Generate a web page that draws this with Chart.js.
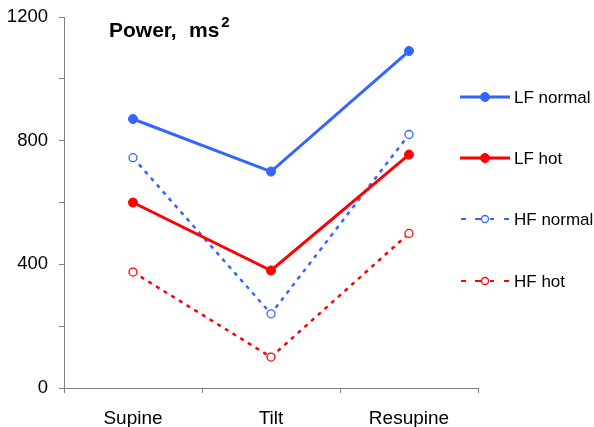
<!DOCTYPE html>
<html>
<head>
<meta charset="utf-8">
<script src="https://cdn.jsdelivr.net/npm/chart.js@4/dist/chart.umd.min.js"></script>
<style>
  html, body { margin: 0; padding: 0; background: #fff; }
  #wrap { width: 594px; height: 427px; }
</style>
</head>
<body>
<div id="wrap"><canvas id="c" width="594" height="427"></canvas></div>
<script>
// Spectral power by posture
const categories = ['Supine', 'Tilt', 'Resupine'];
const lfNormal = [870, 700, 1090];
const lfHot    = [600, 380, 755];
const hfNormal = [745, 240, 820];
const hfHot    = [375, 100, 500];
const yTicks   = [0, 400, 800, 1200];

const BLUE = '#3366ff';
const RED = '#ff0000';
const AXIS = '#808080';
const FONT = '"Liberation Sans", Arial, sans-serif';

function series(label, data, color, dashed) {
  return {
    label, data,
    borderColor: color,
    backgroundColor: dashed ? '#ffffff' : color,
    pointBackgroundColor: dashed ? '#ffffff' : color,
    pointBorderColor: color,
    borderWidth: dashed ? 2.5 : 3,
    borderDash: dashed ? [4, 5] : [],
    pointRadius: dashed ? 4 : 4.5,
    pointBorderWidth: dashed ? 1.3 : 1,
    pointHoverRadius: 5,
    tension: 0,
    fill: false,
    _dashed: dashed
  };
}

// Title with superscript, drawn inside the plot area
const titlePlugin = {
  id: 'powerTitle',
  afterDraw(chart) {
    const ctx = chart.ctx;
    ctx.save();
    ctx.fillStyle = '#000';
    ctx.textBaseline = 'alphabetic';
    ctx.textAlign = 'left';
    ctx.font = 'bold 21px ' + FONT;
    const y = 37;
    ctx.fillText('Power,', 109, y);
    ctx.fillText('ms', 189, y);
    const w = ctx.measureText('ms').width;
    ctx.font = 'bold 15px ' + FONT;
    ctx.fillText('2', 189 + w + 2, y - 10);
    ctx.restore();
  }
};

// Legend drawn to the right of the plot
const legendPlugin = {
  id: 'sideLegend',
  afterDraw(chart) {
    const ctx = chart.ctx;
    const rows = [97, 158, 219, 281];
    chart.data.datasets.forEach((ds, i) => {
      const y = rows[i];
      ctx.save();
      ctx.strokeStyle = ds.borderColor;
      let r = ds.pointRadius;
      if (ds._dashed) {
        ctx.lineWidth = 2;
        ctx.lineCap = 'butt';
        [[461, 466], [475, 481], [490, 494], [504, 509]].forEach(([a, b]) => {
          ctx.beginPath(); ctx.moveTo(a, y); ctx.lineTo(b, y); ctx.stroke();
        });
        r = 3.5;
      } else {
        ctx.lineWidth = ds.borderWidth;
        ctx.beginPath(); ctx.moveTo(460, y); ctx.lineTo(510, y); ctx.stroke();
      }
      ctx.beginPath();
      ctx.arc(485, y, r, 0, Math.PI * 2);
      ctx.fillStyle = ds.pointBackgroundColor;
      ctx.fill();
      ctx.lineWidth = ds.pointBorderWidth;
      ctx.stroke();
      ctx.fillStyle = '#000';
      ctx.font = '17px ' + FONT;
      ctx.textBaseline = 'middle';
      ctx.textAlign = 'left';
      ctx.fillText(ds.label, 514, y + 1);
      ctx.restore();
    });
  }
};

new Chart(document.getElementById('c'), {
  type: 'line',
  data: {
    labels: categories,
    datasets: [
      series('LF normal', lfNormal, BLUE, false),
      series('LF hot', lfHot, RED, false),
      series('HF normal', hfNormal, BLUE, true),
      series('HF hot', hfHot, RED, true)
    ]
  },
  options: {
    responsive: false,
    animation: false,
    layout: { padding: { top: 17, right: 116, left: 0, bottom: 0 } },
    plugins: { legend: { display: false }, tooltip: { enabled: false } },
    scales: {
      x: {
        offset: true,
        grid: { display: true, drawOnChartArea: false, offset: true, tickLength: 5, color: AXIS, lineWidth: 1 },
        border: { display: true, color: AXIS, width: 1 },
        ticks: { color: '#000', font: { family: FONT, size: 19 }, padding: 14 },
        afterFit(s) { s.height = 39; s.paddingLeft = 0; s.paddingRight = 0; }
      },
      y: {
        min: 0, max: 1200,
        grid: { display: true, drawOnChartArea: false, tickLength: 5, color: AXIS, lineWidth: 1 },
        border: { display: true, color: AXIS, width: 1 },
        ticks: {
          stepSize: 200,
          color: '#000',
          font: { family: FONT, size: 18.5 },
          padding: 11,
          callback: v => yTicks.includes(v) ? String(v) : ''
        },
        afterFit(s) { s.width = 64; s.paddingTop = 0; s.paddingBottom = 0; }
      }
    }
  },
  plugins: [titlePlugin, legendPlugin]
});
</script>
</body>
</html>
